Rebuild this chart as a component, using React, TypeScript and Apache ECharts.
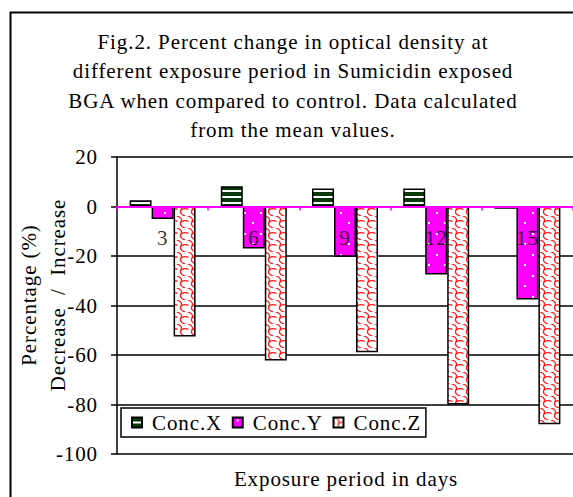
import React, { useEffect, useRef } from "react";
import * as echarts from "echarts";

const categories = ["3", "6", "9", "12", "15"];
const concX = [2.5, 8.2, 7.3, 7.3, -0.9];
const concY = [-5, -17, -20.3, -27.5, -37.6];
const concZ = [-52.5, -62.2, -58.9, -80, -88];
const seriesNames = ["Conc.X", "Conc.Y", "Conc.Z"];
const yTicks = { min: -100, max: 20, interval: 20 };
const titleLines = [
  "Fig.2. Percent change in optical density at",
  "different exposure period in Sumicidin exposed",
  "BGA when compared to control. Data calculated",
  "from the mean values.",
];
const yName = ["Percentage (%)", "Decrease  /  Increase"];
const xName = "Exposure period in days";

const FONT = "'Liberation Serif', 'Times New Roman', serif";

function makeCanvas(w: number, h: number, draw: (ctx: CanvasRenderingContext2D) => void) {
  const c = document.createElement("canvas");
  c.width = w;
  c.height = h;
  const ctx = c.getContext("2d")!;
  draw(ctx);
  return c;
}

export default function App() {
  const ref = useRef<HTMLDivElement>(null);
  useEffect(() => {
    if (!ref.current) return;
    const chart = echarts.init(ref.current, undefined, { renderer: "svg" });

    const patX = makeCanvas(4, 6, (ctx) => {
      ctx.fillStyle = "#ffffff";
      ctx.fillRect(0, 0, 4, 6);
      ctx.fillStyle = "#0a3a0a";
      ctx.fillRect(0, 0, 4, 4);
    });
    const patY = makeCanvas(16, 21, (ctx) => {
      ctx.fillStyle = "#ff00ff";
      ctx.fillRect(0, 0, 16, 21);
      ctx.fillStyle = "#ffffff";
      ctx.fillRect(4, 2, 2, 2);
      ctx.fillRect(12, 12, 2, 2);
    });
    const patZ = makeCanvas(11, 12, (ctx) => {
      ctx.fillStyle = "#ffffff";
      ctx.fillRect(0, 0, 11, 12);
      ctx.strokeStyle = "#ff1a1a";
      ctx.lineWidth = 1.3;
      ctx.lineCap = "round";
      ctx.beginPath();
      ctx.moveTo(1, 0);
      ctx.quadraticCurveTo(7, 2, 5, 6);
      ctx.quadraticCurveTo(3, 10, 9, 12);
      ctx.stroke();
      ctx.beginPath();
      ctx.moveTo(5, 6);
      ctx.quadraticCurveTo(8, 4, 11, 5);
      ctx.stroke();
      ctx.beginPath();
      ctx.moveTo(0, 5);
      ctx.quadraticCurveTo(0.5, 5, 1, 5.2);
      ctx.stroke();
    });

    const pats = [patX, patY, patZ];
    const datas = [concX, concY, concZ];

    chart.setOption({
      animation: false,
      backgroundColor: "#ffffff",
      textStyle: { fontFamily: FONT },
      title: {
        text: titleLines.join("\n"),
        left: 293,
        top: 27,
        padding: 0,
        textAlign: "center",
        textStyle: {
          fontFamily: FONT,
          fontSize: 21,
          fontWeight: "normal",
          color: "#000",
          lineHeight: 29.5,
        },
      },
      legend: {
        data: seriesNames,
        left: 121,
        top: 408,
        orient: "horizontal",
        icon: "rect",
        itemWidth: 10,
        itemHeight: 10,
        itemGap: 15,
        padding: [4, 10, 4, 10],
        borderColor: "#000",
        borderWidth: 1.5,
        backgroundColor: "#fff",
        textStyle: {
          fontFamily: FONT,
          fontSize: 21,
          color: "#000",
          padding: [0, 4, 0, 5],
        },
        z: 20,
      },
      grid: { left: 117, top: 157, width: 463, height: 297, containLabel: false },
      xAxis: {
        type: "category",
        data: categories,
        z: 10,
        axisLine: { onZero: true, lineStyle: { color: "#ff00ff", width: 2 } },
        axisTick: { show: true, length: 4, lineStyle: { color: "#ff00ff", width: 1.5 } },
        axisLabel: { show: false },
        splitLine: { show: false },
      },
      yAxis: {
        type: "value",
        min: yTicks.min,
        max: yTicks.max,
        interval: yTicks.interval,
        axisLine: { show: true, onZero: false, lineStyle: { color: "#000", width: 1.5 } },
        axisTick: { show: true, length: 6, lineStyle: { color: "#000", width: 1.5 } },
        axisLabel: { margin: 19, color: "#000", fontSize: 21, fontFamily: FONT },
        splitLine: { show: true, lineStyle: { color: "#000", width: 1.5 } },
      },
      series: [
        ...seriesNames.map((name, i) => ({
          type: "bar",
          name,
          data: datas[i],
          barWidth: 22,
          barGap: "0%",
          itemStyle: {
            color: { image: pats[i], repeat: "repeat" },
            borderColor: "#000",
            borderWidth: 1.5,
          },
          emphasis: { disabled: true },
        })),
        {
          type: "scatter",
          name: "categoryLabels",
          data: categories.map((c) => [c, 0]),
          symbolSize: 0,
          z: 12,
          silent: true,
          label: {
            show: true,
            position: "bottom",
            distance: 21,
            formatter: (p: any) => p.value[0],
            fontFamily: FONT,
            fontSize: 21,
            color: "#000",
          },
          emphasis: { disabled: true },
        },
      ],
      graphic: [
        {
          type: "rect",
          left: 8,
          top: 10,
          shape: { x: 0, y: 0, width: 1000, height: 1000 },
          style: { fill: "none", stroke: "#000", lineWidth: 2 },
          silent: true,
          z: -1,
        },
        {
          type: "text",
          x: 43,
          y: 295,
          rotation: Math.PI / 2,
          style: {
            text: yName.join("\n"),
            fontFamily: FONT,
            fontSize: 21,
            lineHeight: 29,
            fill: "#000",
            textAlign: "center",
            textVerticalAlign: "middle",
          },
        },
        {
          type: "text",
          x: 346,
          y: 479,
          style: {
            text: xName,
            fontFamily: FONT,
            fontSize: 21,
            fill: "#000",
            textAlign: "center",
            textVerticalAlign: "middle",
          },
        },
      ],
    });
    return () => chart.dispose();
  }, []);
  return (
    <>
      <style>{".figchart svg text { letter-spacing: 0.9px; }"}</style>
      <div
        ref={ref}
        className="figchart"
        style={{ position: "fixed", left: 0, top: 0, width: 573, height: 497, background: "#fff" }}
      />
    </>
  );
}
